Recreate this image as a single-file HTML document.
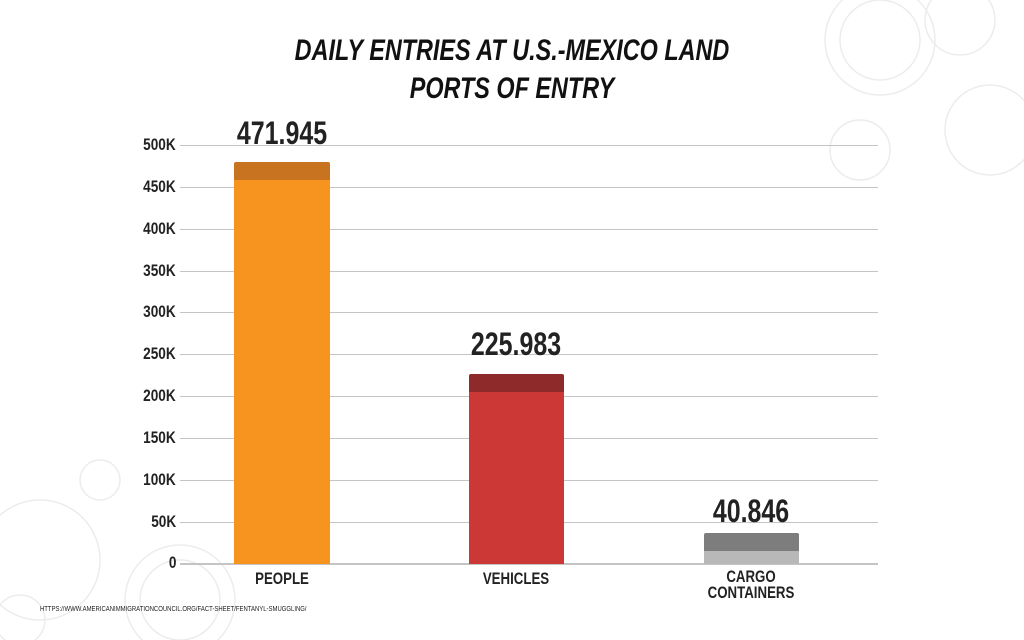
<!DOCTYPE html>
<html><head><style>
body{margin:0;width:1024px;height:640px;background:#fff;overflow:hidden;position:relative;font-family:"Liberation Sans",sans-serif;}
.t{position:absolute;font-weight:bold;color:#222;white-space:nowrap;}
.c{transform:scaleX(0.78);transform-origin:center;}
.g{position:absolute;left:180px;width:698px;height:1px;background:#c4c4c4;}
.yl{position:absolute;right:848px;font-weight:bold;font-size:17px;color:#222;transform:scaleX(0.8);transform-origin:right;}
</style></head><body>
<svg width="1024" height="640" style="position:absolute;left:0;top:0" fill="none" stroke="#ececec" stroke-width="1.5">
<circle cx="880" cy="40" r="55"/><circle cx="880" cy="40" r="40"/><circle cx="990" cy="130" r="45"/><circle cx="860" cy="150" r="30"/>
<circle cx="40" cy="560" r="60"/><circle cx="180" cy="600" r="55"/><circle cx="180" cy="600" r="40"/><circle cx="100" cy="480" r="20"/>
<circle cx="960" cy="20" r="35"/><circle cx="20" cy="620" r="25"/>
</svg>
<div class="t c" style="left:212px;top:32px;width:600px;text-align:center;font-size:30px;line-height:38px;font-style:italic;color:#111;">DAILY ENTRIES AT U.S.-MEXICO LAND<br>PORTS OF ENTRY</div>
<div class="g" style="top:145px"></div><div class="g" style="top:187px"></div><div class="g" style="top:229px"></div><div class="g" style="top:271px"></div><div class="g" style="top:312px"></div><div class="g" style="top:354px"></div><div class="g" style="top:396px"></div><div class="g" style="top:438px"></div><div class="g" style="top:480px"></div><div class="g" style="top:522px"></div><div class="g" style="top:563px;height:2px"></div>
<div class="yl" style="top:135px">500K</div><div class="yl" style="top:177px">450K</div><div class="yl" style="top:219px">400K</div><div class="yl" style="top:261px">350K</div><div class="yl" style="top:302px">300K</div><div class="yl" style="top:344px">250K</div><div class="yl" style="top:386px">200K</div><div class="yl" style="top:428px">150K</div><div class="yl" style="top:470px">100K</div><div class="yl" style="top:512px">50K</div><div class="yl" style="top:553px">0</div>
<div style="position:absolute;left:234px;top:162px;width:96px;height:18px;background:#c8731f;border-radius:2px 2px 0 0"></div>
<div style="position:absolute;left:234px;top:180px;width:96px;height:384px;background:#f7941f"></div>
<div style="position:absolute;left:469px;top:374px;width:95px;height:18px;background:#8f2a2b;border-radius:2px 2px 0 0"></div>
<div style="position:absolute;left:469px;top:392px;width:95px;height:172px;background:#cc3836"></div>
<div style="position:absolute;left:704px;top:533px;width:95px;height:18px;background:#7d7d7d;border-radius:2px 2px 0 0"></div>
<div style="position:absolute;left:704px;top:551px;width:95px;height:13px;background:#b8b8b8"></div>
<div class="t c" style="left:182px;top:115px;width:200px;text-align:center;font-size:32px;">471.945</div>
<div class="t c" style="left:416px;top:326px;width:200px;text-align:center;font-size:32px;">225.983</div>
<div class="t c" style="left:651px;top:493px;width:200px;text-align:center;font-size:32px;">40.846</div>
<div class="t c" style="left:182px;top:569px;width:200px;text-align:center;font-size:17px;">PEOPLE</div>
<div class="t c" style="left:416px;top:569px;width:200px;text-align:center;font-size:17px;">VEHICLES</div>
<div class="t c" style="left:651px;top:569px;width:200px;text-align:center;font-size:17px;line-height:16px;">CARGO<br>CONTAINERS</div>
<div class="t" style="left:40px;top:606px;font-size:7px;font-weight:normal;transform:scaleX(0.85);transform-origin:left;">HTTPS://WWW.AMERICANIMMIGRATIONCOUNCIL.ORG/FACT-SHEET/FENTANYL-SMUGGLING/</div>
</body></html>
